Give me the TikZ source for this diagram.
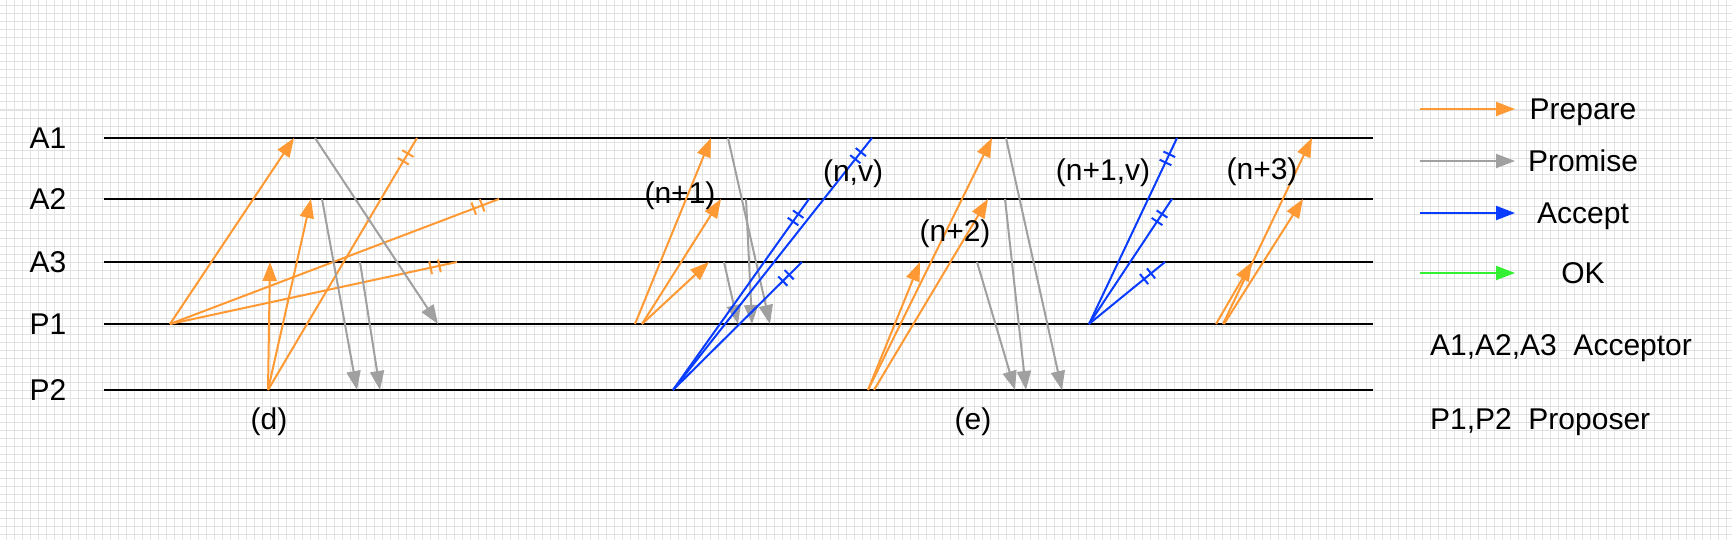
\documentclass[tikz,border=0pt]{standalone}
\usepackage{fontspec}
\setmainfont{Liberation Sans}
\usetikzlibrary{arrows.meta,decorations.markings}
\definecolor{msgOrange}{RGB}{255,153,51}
\definecolor{msgGrey}{RGB}{160,160,160}
\definecolor{msgBlue}{RGB}{10,60,255}
\definecolor{msgGreen}{RGB}{51,240,51}
\definecolor{gridGrey}{RGB}{226,226,226}

\tikzset{
  msg/.style={line width=1pt, -{Triangle[length=9.5pt,width=7pt]}},
  prep/.style={msg, msgOrange},
  prom/.style={msg, msgGrey},
  acc/.style={msg, msgBlue},
  okmsg/.style={msg, msgGreen},
  lost/.style={-, postaction={decorate, decoration={markings,
      mark=at position -9pt with {\draw (0pt,-3.25pt) -- (0pt,3.25pt);},
      mark=at position -13.5pt with {\draw (0pt,-3.25pt) -- (0pt,3.25pt);}}}},
  lifeline/.style={line width=1.2pt, black},
}

\begin{document}
\begin{tikzpicture}[x=0.5pt, y=-0.5pt, font=\fontsize{15}{18}\selectfont]
  \useasboundingbox (0,0) rectangle (1732,540);
  \fill[white] (0,0) rectangle (1732,540);
  \draw[gridGrey, line width=0.5pt, step=4pt, shift={(6,6)}] (-6,534) grid (1726,-6);

  % lifelines
  \foreach \n/\yy in {A1/138, A2/199, A3/262, P1/324, P2/390}
    \node (\n) at (48,\yy) {\n};
  \foreach \n in {A1,A2,A3,P1,P2}
    \draw[lifeline] (104,0 |- \n) -- (1373,0 |- \n);

  % prepare
  \foreach \a/\s/\b/\t in {170/P1/294/A1, 268/P2/270/A3, 268/P2/311/A2,
      635/P1/711/A1, 642/P1/721/A2, 642/P1/709/A3,
      868/P2/920/A3, 868/P2/992/A1, 874/P2/988/A2,
      1216/P1/1252/A3, 1223/P1/1312/A1, 1224/P1/1303/A2}
    \draw[prep] (\a,0 |- \s) -- (\b,0 |- \t);
  \foreach \a/\s/\b/\t in {170/P1/499/A2, 170/P1/457/A3, 268/P2/417/A1}
    \draw[prep, lost] (\a,0 |- \s) -- (\b,0 |- \t);

  % promise
  \foreach \a/\s/\b/\t in {315/A1/438/P1, 322/A2/357/P2, 360/A3/380/P2,
      728/A1/770/P1, 746/A2/752/P1, 724/A3/738/P1,
      1006/A1/1062/P2, 1005/A2/1026/P2, 977/A3/1015/P2}
    \draw[prom] (\a,0 |- \s) -- (\b,0 |- \t);

  % accept
  \foreach \a/\s/\b/\t in {673/P2/872/A1, 673/P2/809/A2, 673/P2/802/A3,
      1089/P1/1177/A1, 1089/P1/1172/A2, 1089/P1/1165/A3}
    \draw[acc, lost] (\a,0 |- \s) -- (\b,0 |- \t);

  % round labels
  \node (labD) at (269,422) {(d)};
  \node (labE) at (973,422) {(e)};
  \node (nOne) at (680,196) {(n+1)};
  \node (nv) at (853,174) {(n,v)};
  \node (nTwo) at (955,234) {(n+2)};
  \node (nOneV) at (1103,173) {(n+1,v)};
  \node (nThree) at (1262,172) {(n+3)};

  % legend
  \foreach \sty/\txt/\yy [count=\i] in {prep/Prepare/109, prom/Promise/161,
      acc/Accept/213, okmsg/OK/273} {
    \coordinate (leg\i s) at (1420,\yy);
    \coordinate (leg\i e) at (1515,\yy);
    \draw[\sty] (leg\i s) -- (leg\i e);
    \node[anchor=base] (leg\i) at (1583,\yy+10.5) {\txt};
  }
  \node[anchor=base west] (accNote) at (1423,355) {A1,A2,A3~~Acceptor};
  \node[anchor=base west] (propNote) at (1423,429) {P1,P2~~Proposer};
\end{tikzpicture}
\end{document}
